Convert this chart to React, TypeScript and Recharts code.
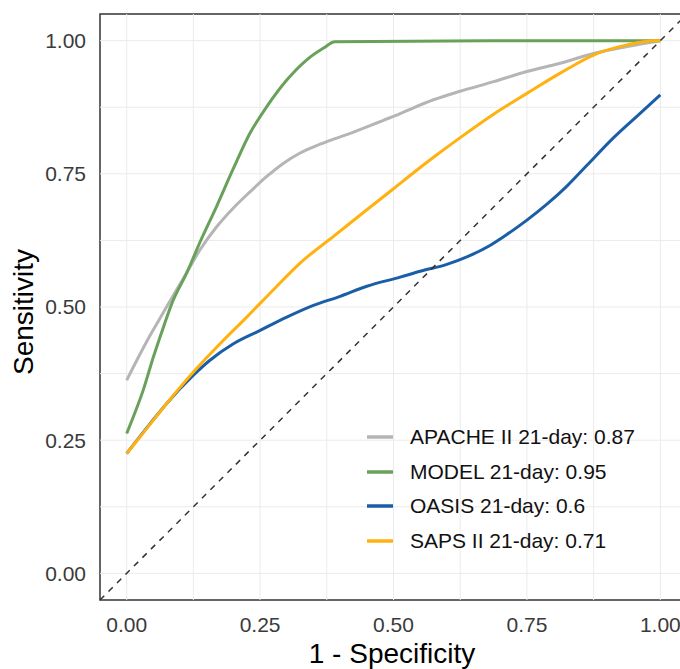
import {
  LineChart, Line, XAxis, YAxis, ReferenceLine, ReferenceArea, Legend,
} from 'recharts'

// 1 - specificity / sensitivity pairs
const apacheFpr = [0, 0.019, 0.044, 0.069, 0.0875, 0.106, 0.1375, 0.169, 0.2, 0.231, 0.2625, 0.294, 0.325, 0.356, 0.3875, 0.419, 0.45, 0.48, 0.5125, 0.5375, 0.575, 0.625, 0.6875, 0.75, 0.8125, 0.875, 0.9375, 1.0]
const apacheTpr = [0.3625, 0.4, 0.447, 0.49, 0.522, 0.553, 0.6075, 0.651, 0.686, 0.716, 0.745, 0.77, 0.789, 0.803, 0.815, 0.826, 0.838, 0.85, 0.863, 0.874, 0.889, 0.905, 0.923, 0.942, 0.9575, 0.976, 0.989, 1.0]

const modelFpr = [0, 0.0125, 0.031, 0.05, 0.069, 0.084, 0.1125, 0.1375, 0.169, 0.2, 0.231, 0.2625, 0.3, 0.3375, 0.369, 0.39, 0.675, 1.0]
const modelTpr = [0.2625, 0.294, 0.344, 0.406, 0.4625, 0.505, 0.564, 0.622, 0.69, 0.76, 0.826, 0.876, 0.926, 0.964, 0.986, 0.998, 1.0, 1.0]

const oasisFpr = [0, 0.044, 0.075, 0.125, 0.156, 0.2, 0.25, 0.3, 0.35, 0.4, 0.45, 0.5125, 0.55, 0.6, 0.6375, 0.68, 0.7125, 0.75, 0.7875, 0.825, 0.8625, 0.9125, 0.956, 1.0]
const oasisTpr = [0.225, 0.281, 0.319, 0.372, 0.4, 0.431, 0.456, 0.481, 0.503, 0.52, 0.539, 0.556, 0.567, 0.58, 0.594, 0.615, 0.636, 0.663, 0.693, 0.727, 0.766, 0.818, 0.858, 0.898]

const sapsFpr = [0, 0.025, 0.075, 0.125, 0.175, 0.225, 0.275, 0.325, 0.3875, 0.45, 0.5, 0.5375, 0.575, 0.625, 0.6875, 0.75, 0.8125, 0.875, 0.9375, 0.9875, 1.0]
const sapsTpr = [0.225, 0.256, 0.319, 0.378, 0.431, 0.481, 0.5325, 0.5825, 0.6325, 0.6825, 0.722, 0.752, 0.781, 0.818, 0.862, 0.901, 0.939, 0.973, 0.992, 1.0, 1.0]

const axisTicks = [0, 0.25, 0.5, 0.75, 1]
const gridValues = [0, 0.125, 0.25, 0.375, 0.5, 0.625, 0.75, 0.875, 1]

const series = [
  { name: 'APACHE II 21-day: 0.87', fpr: apacheFpr, tpr: apacheTpr, color: '#b5b5b5' },
  { name: 'MODEL 21-day: 0.95', fpr: modelFpr, tpr: modelTpr, color: '#69a05a' },
  { name: 'OASIS 21-day: 0.6', fpr: oasisFpr, tpr: oasisTpr, color: '#1b5ea8' },
  { name: 'SAPS II 21-day: 0.71', fpr: sapsFpr, tpr: sapsTpr, color: '#ffb20f' },
]

const toPoints = (xs: number[], ys: number[]) => xs.map((x, i) => ({ x, y: ys[i] }))

const font = '"Liberation Sans", Arial, sans-serif'

function RocLegend() {
  return (
    <div style={{ fontFamily: font, fontSize: 21, color: '#111' }}>
      {series.map((s) => (
        <div key={s.name} style={{ display: 'flex', alignItems: 'center', height: 34.5 }}>
          <svg width={26} height={6} style={{ display: 'block' }}>
            <line x1={0} y1={3} x2={26} y2={3} stroke={s.color} strokeWidth={3.5} />
          </svg>
          <span style={{ marginLeft: 17, whiteSpace: 'nowrap' }}>{s.name}</span>
        </div>
      ))}
    </div>
  )
}

export default function App() {
  return (
    <div style={{
      position: 'absolute', left: 0, top: 0, width: 680, height: 669,
      overflow: 'hidden', background: '#fff', fontFamily: font,
    }}>
      <LineChart width={700} height={669} margin={{ top: 14, right: 13, bottom: 0, left: 0 }}>
        {gridValues.map((v) => (
          <ReferenceLine key={`gx${v}`} x={v} stroke="#ebebeb" strokeWidth={1} />
        ))}
        {gridValues.map((v) => (
          <ReferenceLine key={`gy${v}`} y={v} stroke="#ebebeb" strokeWidth={1} />
        ))}
        <XAxis
          type="number"
          dataKey="x"
          domain={[-0.05, 1.05]}
          ticks={axisTicks}
          allowDataOverflow
          axisLine={false}
          tickLine={false}
          tickMargin={11}
          height={69}
          tick={{ fontSize: 21, fill: '#3a3a3a', fontFamily: font }}
          tickFormatter={(v: number) => v.toFixed(2)}
          label={{
            content: () => (
              <text x={392} y={663} textAnchor="middle" fontSize={28} fill="#000" fontFamily={font}>
                1 - Specificity
              </text>
            ),
          }}
        />
        <YAxis
          type="number"
          dataKey="y"
          domain={[-0.05, 1.05]}
          ticks={axisTicks}
          allowDataOverflow
          axisLine={false}
          tickLine={false}
          tickMargin={8}
          width={100}
          tick={{ fontSize: 21, fill: '#3a3a3a', fontFamily: font }}
          tickFormatter={(v: number) => v.toFixed(2)}
          label={{
            content: () => (
              <text x={33} y={312} transform="rotate(-90, 33, 312)" textAnchor="middle" fontSize={28} fill="#000" fontFamily={font}>
                Sensitivity
              </text>
            ),
          }}
        />
        {series.map((s) => (
          <Line
            key={s.name}
            name={s.name}
            data={toPoints(s.fpr, s.tpr)}
            dataKey="y"
            type="monotoneX"
            stroke={s.color}
            strokeWidth={3}
            dot={false}
            activeDot={false}
            isAnimationActive={false}
          />
        ))}
        <ReferenceLine
          segment={[{ x: -0.05, y: -0.05 }, { x: 1.05, y: 1.05 }]}
          stroke="#333"
          strokeWidth={1.5}
          strokeDasharray="6 6"
        />
        <ReferenceArea
          x1={-0.05} x2={1.05} y1={-0.05} y2={1.05}
          fill="none" fillOpacity={0} stroke="#333" strokeWidth={1.5} ifOverflow="visible"
        />
        <Legend
          layout="vertical"
          align="center"
          verticalAlign="middle"
          content={() => <RocLegend />}
          wrapperStyle={{ left: 367, top: 420, width: 'auto' }}
        />
      </LineChart>
    </div>
  )
}
